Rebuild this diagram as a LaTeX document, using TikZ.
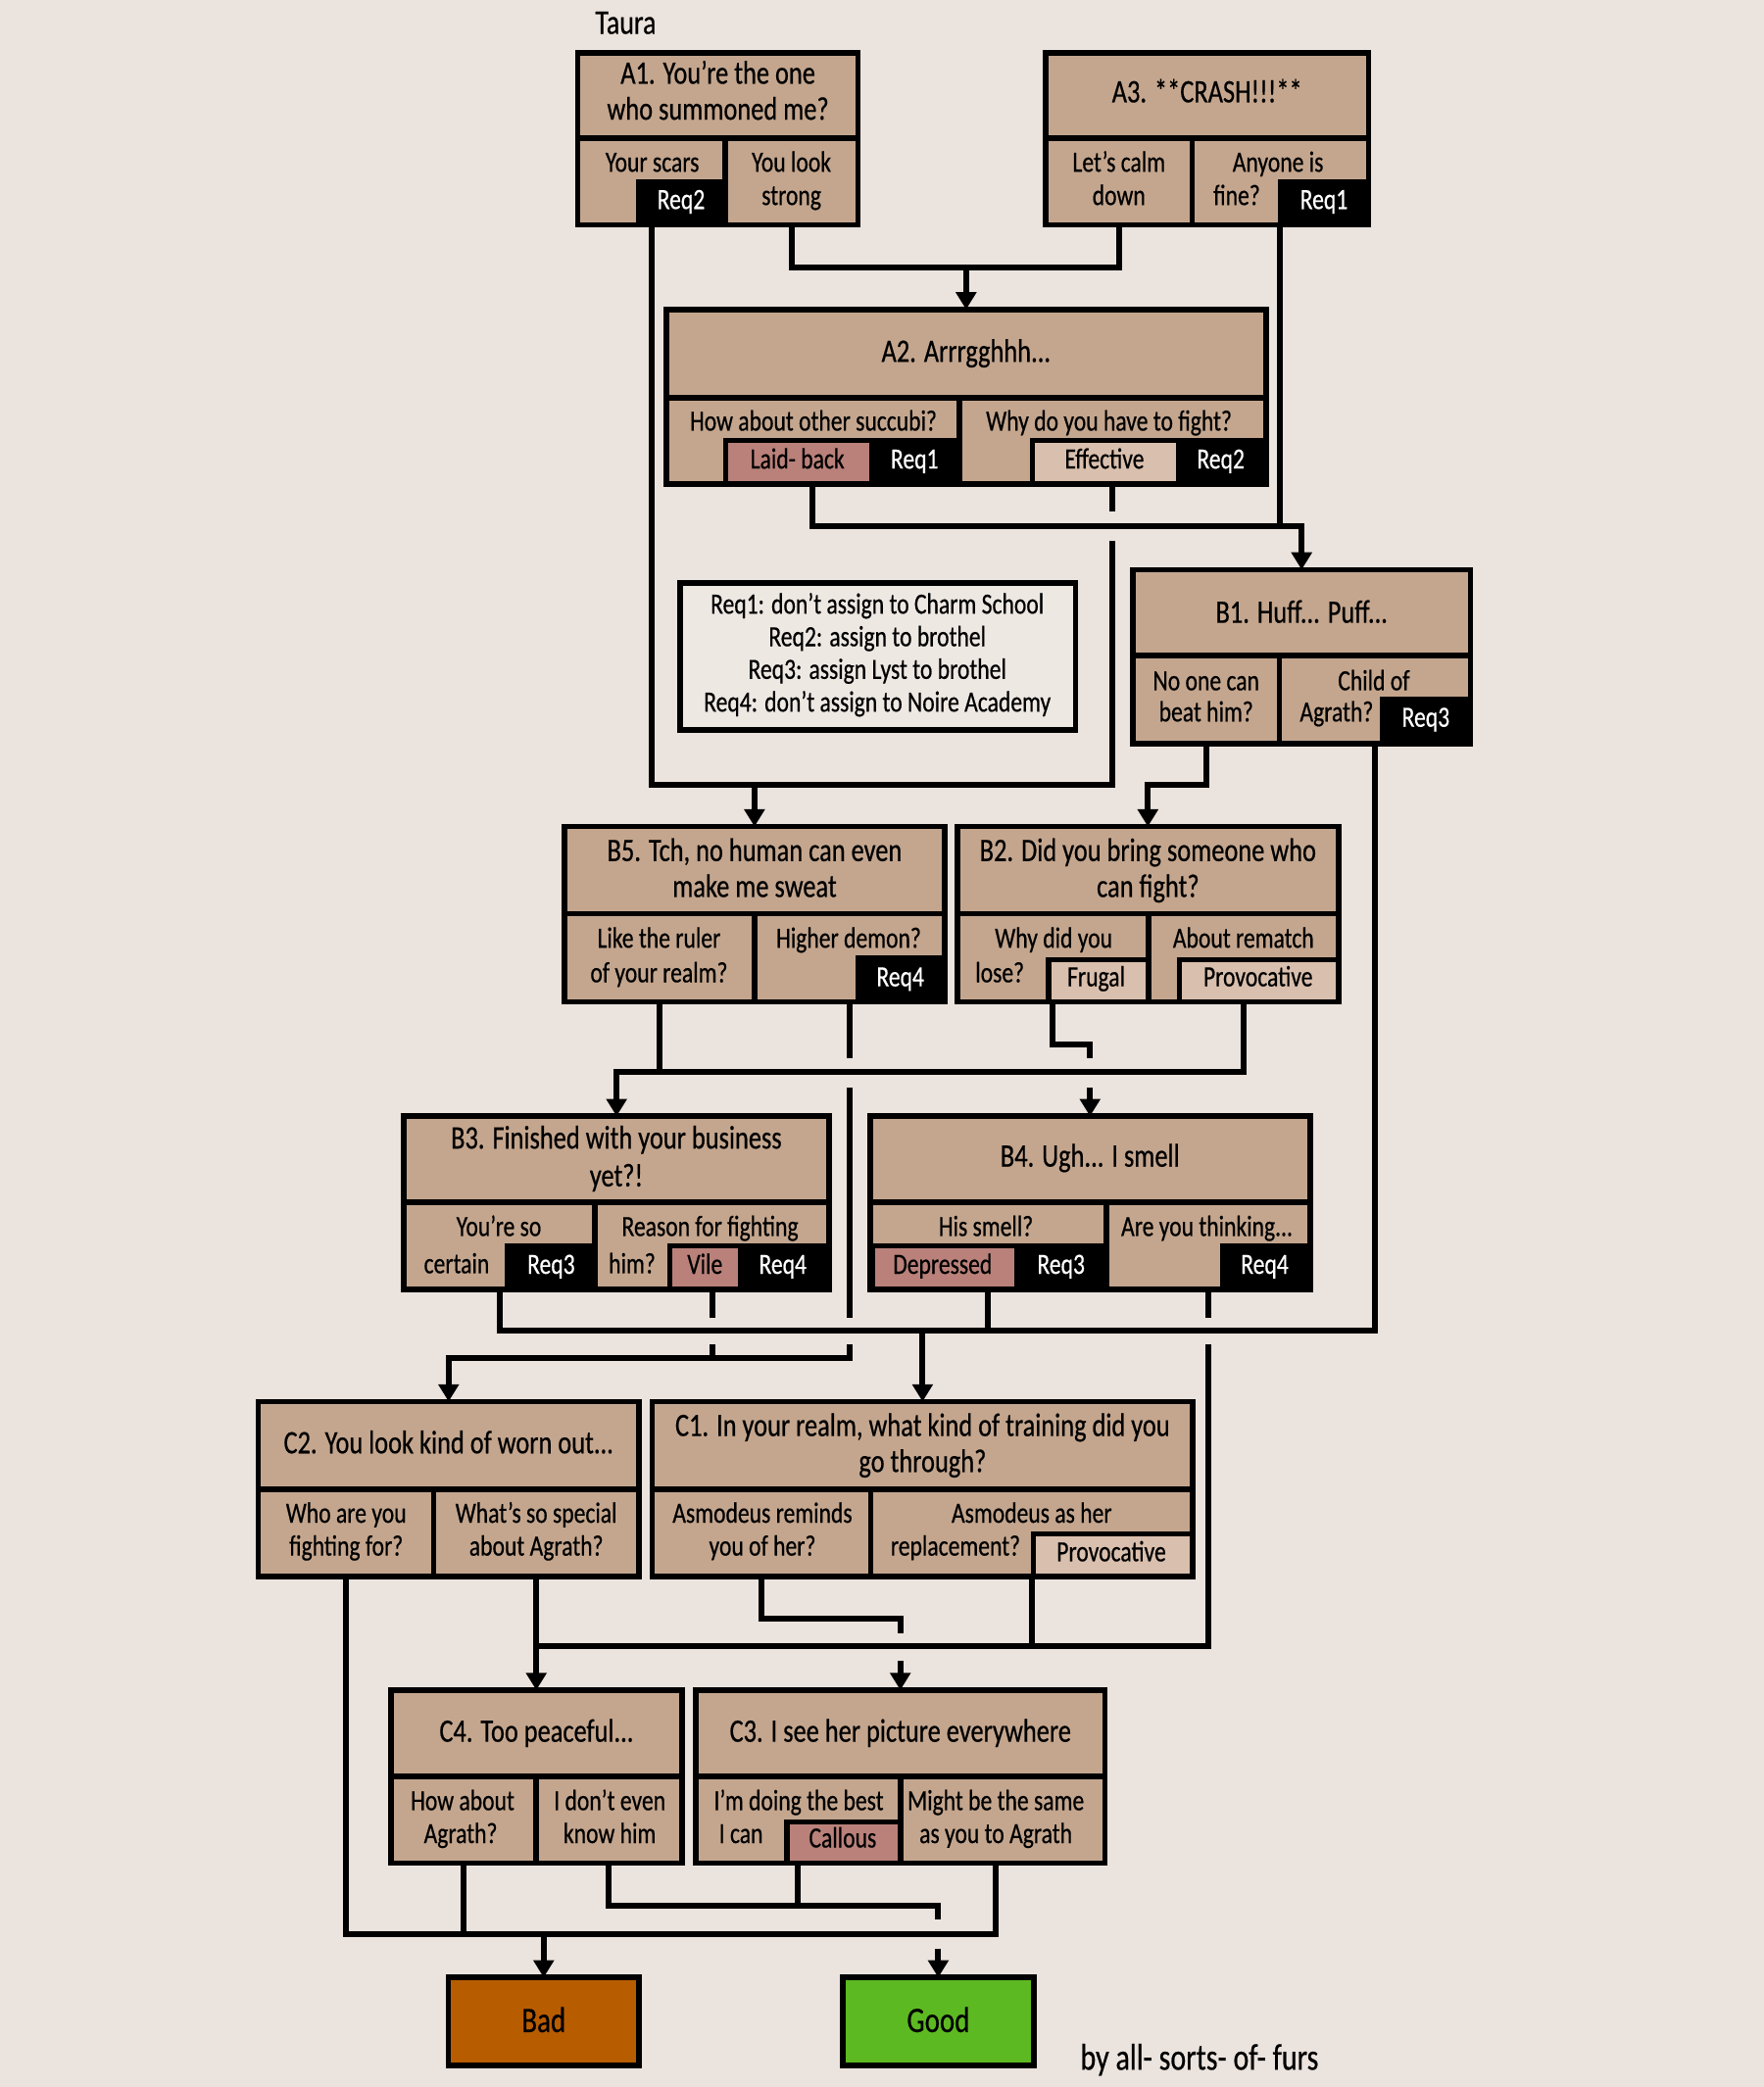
\documentclass[tikz,border=0pt]{standalone}
\usepackage{fontspec}
\setmainfont{Carlito}[FakeStretch=0.79,FakeBold=0.5]
\usetikzlibrary{fit,arrows.meta}
\definecolor{bgc}{HTML}{EBE3DD}
\definecolor{tanc}{HTML}{C4A68E}
\definecolor{pinkc}{HTML}{B9817A}
\definecolor{lightc}{HTML}{D9BFAD}
\definecolor{legc}{HTML}{EEE8E3}
\definecolor{badc}{HTML}{B85C00}
\definecolor{goodc}{HTML}{5DB921}
\newcommand\dlg[7]{%
  \node[cell, fit={(#2,#3) (#5,#6)}] (#1) {};
  \node[cell, fit={(#2,#6) (#4,#7)}] (#1l) {};
  \node[cell, fit={(#4,#6) (#5,#7)}] (#1r) {};
}
\tikzset{
  cell/.style={draw=black, fill=tanc, line width=2.1pt, inner sep=0pt, outer sep=0pt},
  tagbox/.style={fill=black, inner sep=0pt, outer sep=0pt},
  pinkbox/.style={fill=pinkc, inner sep=0pt, outer sep=0pt},
  lightbox/.style={fill=lightc, inner sep=0pt, outer sep=0pt},
  opt/.style={font=\fontsize{11}{13}\selectfont, text height=7pt, text depth=0pt, inner sep=0pt},
  ttl/.style={font=\fontsize{12.3}{14}\selectfont, text height=7.9pt, text depth=0pt, inner sep=0pt},
  req/.style={opt, text=white},
  big/.style={font=\fontsize{13.5}{16}\selectfont, text height=8.7pt, text depth=0pt, inner sep=0pt},
  conn/.style={line width=2.2pt, line cap=butt, line join=miter},
  arr/.style={conn, -{Triangle[width=7.5pt,length=6.5pt]}},
}
\begin{document}
\begin{tikzpicture}[x=0.5pt,y=-0.5pt]
\fill[bgc] (0,0) rectangle (1325,1568);
\node[big, font=\fontsize{13}{15}\selectfont, text height=8.4pt] (taura) at (470,17) {Taura};

% ---------- A1
\dlg{a1}{434}{39.5}{544.5}{644.5}{103.8}{169}
\node[tagbox, fit={(478,134.5) (544.5,169)}] (a1tag) {};
\node[ttl] (a1t1) at (539.3,55) {A1. You’re the one};
\node[ttl] (a1t2) at (539.3,82) {who summoned me?};
\node[opt] (a1l1) at (490,122) {Your scars};
\node[req] (a1q) at (511.6,150) {Req2};
\node[opt] (a1r1) at (594.5,122) {You look};
\node[opt] (a1r2) at (594.5,147) {strong};

% ---------- A3
\dlg{a3}{785.5}{39.5}{895.5}{1028}{103.8}{169}
\node[tagbox, fit={(960,134.5) (1028,169)}] (a3tag) {};
\node[ttl] (a3t1) at (906.7,69) {A3. **CRASH!!!**};
\node[opt] (a3l1) at (840.5,122) {Let’s calm};
\node[opt] (a3l2) at (840.5,147) {down};
\node[opt] (a3r1) at (960,122) {Anyone is};
\node[opt] (a3r2) at (929,147) {fine?};
\node[req] (a3q) at (994.5,150) {Req1};

% ---------- A2
\dlg{a2}{500.4}{232.5}{720.5}{951}{298.8}{363.5}
\node[tagbox, fit={(543,329) (720.5,363.5)}] (a2ltag) {};
\node[pinkbox, fit={(547,333) (653,361.5)}] (a2lin) {};
\node[tagbox, fit={(773.6,329) (951,363.5)}] (a2rtag) {};
\node[lightbox, fit={(777.6,333) (883,361.5)}] (a2rin) {};
\node[ttl] (a2t1) at (725.7,264) {A2. Arrrgghhh...};
\node[opt] (a2l1) at (611,316.5) {How about other succubi?};
\node[opt] (a2l2) at (599,345) {Laid- back};
\node[req] (a2lq) at (687,345) {Req1};
\node[opt] (a2r1) at (833,316.5) {Why do you have to fight?};
\node[opt] (a2r2) at (829.6,345) {Effective};
\node[req] (a2rq) at (917,345) {Req2};

% ---------- Legend
\node[draw=black, fill=legc, line width=2.1pt, inner sep=0pt, outer sep=0pt, fit={(511,438) (808,548.5)}] (legend) {};
\node[opt] (leg1) at (659,454) {Req1: don’t assign to Charm School};
\node[opt] (leg2) at (659,478.5) {Req2: assign to brothel};
\node[opt] (leg3) at (659,503) {Req3: assign Lyst to brothel};
\node[opt] (leg4) at (659,527.6) {Req4: don’t assign to Noire Academy};

% ---------- B1
\dlg{b1}{851}{428}{961}{1104.5}{492.5}{558.5}
\node[tagbox, fit={(1036.6,523.5) (1104.5,558.5)}] (b1tag) {};
\node[ttl] (b1t1) at (977.8,460) {B1. Huff... Puff...};
\node[opt] (b1l1) at (906,511.6) {No one can};
\node[opt] (b1l2) at (906,535) {beat him?};
\node[opt] (b1r1) at (1032,511.6) {Child of};
\node[opt] (b1r2) at (1004,535) {Agrath?};
\node[req] (b1q) at (1071,539) {Req3};

% ---------- B5
\dlg{b5}{424}{621}{567}{709.5}{686.5}{752.8}
\node[tagbox, fit={(642.5,717.7) (709.5,752.8)}] (b5tag) {};
\node[ttl] (b5t1) at (566.8,639) {B5. Tch, no human can even};
\node[ttl] (b5t2) at (566.8,666) {make me sweat};
\node[opt] (b5l1) at (495,705) {Like the ruler};
\node[opt] (b5l2) at (495,731) {of your realm?};
\node[opt] (b5r1) at (637.5,705) {Higher demon?};
\node[req] (b5q) at (676.3,734) {Req4};

% ---------- B2
\dlg{b2}{719}{621}{862.7}{1005.5}{686.5}{752.8}
\node[tagbox, fit={(785.6,719) (862.7,752.8)}] (b2ltag) {};
\node[lightbox, fit={(789.6,723) (860.6,750.8)}] (b2lin) {};
\node[tagbox, fit={(884,719) (1005.5,752.8)}] (b2rtag) {};
\node[lightbox, fit={(888,723) (1003.4,750.8)}] (b2rin) {};
\node[ttl] (b2t1) at (862.3,639) {B2. Did you bring someone who};
\node[ttl] (b2t2) at (862.3,666) {can fight?};
\node[opt] (b2l1) at (791.5,705) {Why did you};
\node[opt] (b2l2) at (751,731) {lose?};
\node[opt] (b2l3) at (823.4,734) {Frugal};
\node[opt] (b2r1) at (934,705) {About rematch};
\node[opt] (b2r2) at (945,734) {Provocative};

% ---------- B3
\dlg{b3}{303.5}{838.6}{447}{622.8}{903}{968.7}
\node[tagbox, fit={(379,934) (447,968.7)}] (b3ltag) {};
\node[tagbox, fit={(501,934) (622.8,968.7)}] (b3rtag) {};
\node[pinkbox, fit={(505,938) (554,966.7)}] (b3rin) {};
\node[ttl] (b3t1) at (463,855) {B3. Finished with your business};
\node[ttl] (b3t2) at (463,883.4) {yet?!};
\node[opt] (b3l1) at (374.7,921.6) {You’re so};
\node[opt] (b3l2) at (343,949.6) {certain};
\node[req] (b3lq) at (414,950) {Req3};
\node[opt] (b3r1) at (533.4,921.6) {Reason for fighting};
\node[opt] (b3r2) at (474.8,949.6) {him?};
\node[opt] (b3r3) at (529.5,950) {Vile};
\node[req] (b3rq) at (588,950) {Req4};

% ---------- B4
\dlg{b4}{653.6}{838.6}{831}{984}{903}{968.7}
\node[tagbox, fit={(653.6,934) (831,968.7)}] (b4ltag) {};
\node[pinkbox, fit={(657.6,938) (762,966.7)}] (b4lin) {};
\node[tagbox, fit={(916.5,934) (984,968.7)}] (b4rtag) {};
\node[ttl] (b4t1) at (818.8,868.6) {B4. Ugh... I smell};
\node[opt] (b4l1) at (740.6,921.6) {His smell?};
\node[opt] (b4l2) at (708,950) {Depressed};
\node[req] (b4lq) at (797,950) {Req3};
\node[opt] (b4r1) at (906.6,921.6) {Are you thinking...};
\node[req] (b4rq) at (950,950) {Req4};

% ---------- C2
\dlg{c2}{194}{1053}{325.7}{480}{1119}{1184.6}
\node[ttl] (c2t1) at (337,1084) {C2. You look kind of worn out...};
\node[opt] (c2l1) at (260,1137) {Who are you};
\node[opt] (c2l2) at (260,1161.7) {fighting for?};
\node[opt] (c2r1) at (402.8,1137) {What’s so special};
\node[opt] (c2r2) at (402.8,1161.7) {about Agrath?};

% ---------- C1
\dlg{c1}{490}{1053}{654}{896}{1119}{1184.6}
\node[tagbox, fit={(774.3,1150.3) (896,1184.6)}] (c1rtag) {};
\node[lightbox, fit={(778.3,1154.3) (893.9,1182.6)}] (c1rin) {};
\node[ttl] (c1t1) at (693,1071) {C1. In your realm, what kind of training did you};
\node[ttl] (c1t2) at (693,1098) {go through?};
\node[opt] (c1l1) at (572.7,1137) {Asmodeus reminds};
\node[opt] (c1l2) at (572.7,1161.7) {you of her?};
\node[opt] (c1r1) at (775,1137) {Asmodeus as her};
\node[opt] (c1r2) at (717.7,1161.7) {replacement?};
\node[opt] (c1r3) at (834.8,1166) {Provocative};

% ---------- C4
\dlg{c4}{293.7}{1269.8}{402.6}{512.4}{1334.7}{1399.8}
\node[ttl] (c4t1) at (403,1300.7) {C4. Too peaceful...};
\node[opt] (c4l1) at (347.5,1353) {How about};
\node[opt] (c4l2) at (346,1377.7) {Agrath?};
\node[opt] (c4r1) at (458,1353) {I don’t even};
\node[opt] (c4r2) at (458,1377.7) {know him};

% ---------- C3
\dlg{c3}{522.6}{1269.8}{676.5}{830}{1334.7}{1399.8}
\node[tagbox, fit={(589,1366.7) (676.5,1399.8)}] (c3ltag) {};
\node[pinkbox, fit={(593,1370.7) (674.4,1397.8)}] (c3lin) {};
\node[ttl] (c3t1) at (676.3,1300.7) {C3. I see her picture everywhere};
\node[opt] (c3l1) at (600,1353) {I’m doing the best};
\node[opt] (c3l2) at (556.6,1377.7) {I can};
\node[opt] (c3l3) at (633,1381) {Callous};
\node[opt] (c3r1) at (748,1353) {Might be the same};
\node[opt] (c3r2) at (748,1377.7) {as you to Agrath};

% ---------- endings
\node[draw=black, fill=badc, line width=2.1pt, inner sep=0pt, outer sep=0pt, fit={(336.8,1485.7) (480,1552)}] (bad) {};
\node[draw=black, fill=goodc, line width=2.1pt, inner sep=0pt, outer sep=0pt, fit={(633,1485.7) (776.6,1552)}] (good) {};
\node[big] (badt) at (408.4,1518) {Bad};
\node[big] (goodt) at (704.8,1518) {Good};
\node[big, font=\fontsize{14}{16}\selectfont, text height=9pt] (sig) at (901,1546) {by all- sorts- of- furs};

% ---------- levels
\foreach \l in {201,384,395,406,590,785,795,805,817,990,1000,1010,1020,1216,1227,1237,1248,1432,1442,1453,1464}
  {\coordinate (L\l) at (0,\l);}
\coordinate (c3rout) at ([xshift=-2.5pt]c3r.south);

% A1 right, A3 left -> A2
\draw[conn] (a1r.south) |- (a3l.south |- L201) -- (a3l.south);
\draw[arr] (a2.north |- L201) -- (a2.north);
% A1 left (Req2), A2 right (Effective) -> B5
\draw[conn] (a1l.south) |- (a2r.south |- L590) -- (a2r.south |- L406);
\draw[conn] (a2r.south) -- (a2r.south |- L384);
\draw[arr] (b5.north |- L590) -- (b5.north);
% A2 left (Laid-back), A3 right (Req1) -> B1
\draw[arr] (a2l.south) |- (b1.north |- L395) -- (b1.north);
\draw[conn] (a3r.south) -- (a3r.south |- L395);
% B1 left -> B2
\draw[arr] (b1l.south) |- (b2.north |- L590) -- (b2.north);
% B5 left, B2 right -> B3
\draw[arr] (b2r.south) |- (b3.north |- L805) -- (b3.north);
\draw[conn] (b5l.south) -- (b5l.south |- L805);
% B2 left (Frugal) -> B4
\draw[conn] (b2l.south) |- (b4.north |- L785) -- (b4.north |- L795);
\draw[arr] (b4.north |- L817) -- (b4.north);
% B5 right (Req4), B3 right (Vile) -> C2
\draw[conn] (b5r.south) -- (b5r.south |- L795);
\draw[conn] (b5r.south |- L817) -- (b5r.south |- L990);
\draw[arr] (b5r.south |- L1010) |- (c2.north |- L1020) -- (c2.north);
\draw[conn] (b3r.south) -- (b3r.south |- L990);
\draw[conn] (b3r.south |- L1010) -- (b3r.south |- L1020);
% B3 left, B4 left, B1 right -> C1
\draw[conn] (b3l.south) |- (b1r.south |- L1000) -- (b1r.south);
\draw[conn] (b4l.south) -- (b4l.south |- L1000);
\draw[arr] (c1.north |- L1000) -- (c1.north);
% B4 right, C1 right, C2 right -> C4
\draw[conn] (b4r.south) -- (b4r.south |- L990);
\draw[conn] (b4r.south |- L1010) |- (c2r.south |- L1237);
\draw[conn] (c1r.south) -- (c1r.south |- L1237);
\draw[arr] (c2r.south) -- (c2r.south |- c4.north);
% C1 left -> C3
\draw[conn] (c1l.south) |- (c3.north |- L1216) -- (c3.north |- L1227);
\draw[arr] (c3.north |- L1248) -- (c3.north);
% C2 left, C4 left, C3 right -> Bad
\draw[conn] (c2l.south) |- (c3rout |- L1453) -- (c3rout);
\draw[conn] (c4l.south) -- (c4l.south |- L1453);
\draw[arr] (bad.north |- L1453) -- (bad.north);
% C4 right, C3 left (Callous) -> Good
\draw[conn] (c4r.south) |- (good.north |- L1432) -- (good.north |- L1442);
\draw[conn] (c3l.south) -- (c3l.south |- L1432);
\draw[arr] (good.north |- L1464) -- (good.north);
\end{tikzpicture}
\end{document}
